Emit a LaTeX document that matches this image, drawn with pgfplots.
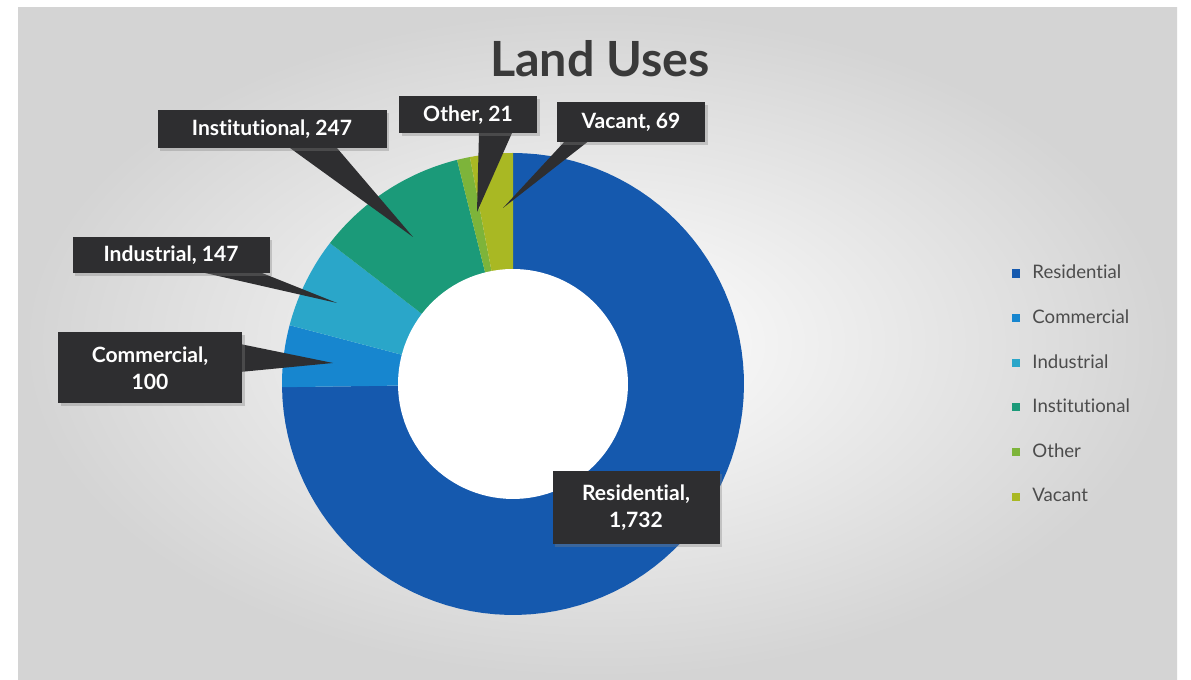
\documentclass[border=0pt]{standalone}
\usepackage{pgfplots}
\pgfplotsset{compat=1.18}
\usepackage{fontspec}
\setmainfont[Ligatures=NoCommon]{Lato}
\usetikzlibrary{shadows}

\definecolor{cRes}{HTML}{1559AE}
\definecolor{cCom}{HTML}{1786CF}
\definecolor{cInd}{HTML}{2AA6C9}
\definecolor{cIns}{HTML}{1B9A79}
\definecolor{cOth}{HTML}{7DB43A}
\definecolor{cVac}{HTML}{A9B823}
\definecolor{boxc}{HTML}{2E2E30}
\definecolor{titlec}{HTML}{3A3A3A}

% data values
\def\vRes{1732}
\def\vCom{100}
\def\vInd{147}
\def\vIns{247}
\def\vOth{21}
\def\vVac{69}
\pgfmathsetmacro\tot{\vRes+\vCom+\vInd+\vIns+\vOth+\vVac}
\pgfmathsetmacro\k{360/\tot}
\pgfmathsetmacro\aA{90}
\pgfmathsetmacro\aB{\aA-\k*\vRes}
\pgfmathsetmacro\aC{\aB-\k*\vCom}
\pgfmathsetmacro\aD{\aC-\k*\vInd}
\pgfmathsetmacro\aE{\aD-\k*\vIns}
\pgfmathsetmacro\aF{\aE-\k*\vOth}
\pgfmathsetmacro\aG{-270}

\def\cx{513}
\def\cy{296}
\def\R{231}
\def\r{115}

\begin{document}
\begin{tikzpicture}
\begin{axis}[
  scale only axis, width=11.91cm, height=6.8cm,
  xmin=0, xmax=1191, ymin=0, ymax=680,
  hide axis, clip=false,
  legend cell align=left,
  legend image code/.code={\fill[#1] (0pt,-1.15pt) rectangle (2.3pt,1.15pt);},
  legend style={at={(axis cs:1011,416)}, anchor=north west, draw=none, fill=none,
    inner sep=0pt, column sep=3.6pt, row sep=7.7pt,
    font=\fontsize{5.3pt}{6pt}\selectfont, text=black!70,
    nodes={inner sep=0pt, text height=4pt, text depth=1pt}},
]
% background
\fill[white] (0,0) rectangle (1191,680);
\shade[inner color=white, outer color=black!17] (18,0) rectangle (1177,672);

% slices
\addplot[fill=cRes, draw=none, domain=\aB:\aA, samples=90, variable=\t]
  ({\cx+\R*cos(\t)},{\cy+\R*sin(\t)}) -- (\cx,\cy) -- cycle;
\addlegendentry{Residential}
\addplot[fill=cCom, draw=none, domain=\aC:\aB, samples=20, variable=\t]
  ({\cx+\R*cos(\t)},{\cy+\R*sin(\t)}) -- (\cx,\cy) -- cycle;
\addlegendentry{Commercial}
\addplot[fill=cInd, draw=none, domain=\aD:\aC, samples=20, variable=\t]
  ({\cx+\R*cos(\t)},{\cy+\R*sin(\t)}) -- (\cx,\cy) -- cycle;
\addlegendentry{Industrial}
\addplot[fill=cIns, draw=none, domain=\aE:\aD, samples=30, variable=\t]
  ({\cx+\R*cos(\t)},{\cy+\R*sin(\t)}) -- (\cx,\cy) -- cycle;
\addlegendentry{Institutional}
\addplot[fill=cOth, draw=none, domain=\aF:\aE, samples=5, variable=\t]
  ({\cx+\R*cos(\t)},{\cy+\R*sin(\t)}) -- (\cx,\cy) -- cycle;
\addlegendentry{Other}
\addplot[fill=cVac, draw=none, domain=\aG:\aF, samples=10, variable=\t]
  ({\cx+\R*cos(\t)},{\cy+\R*sin(\t)}) -- (\cx,\cy) -- cycle;
\addlegendentry{Vacant}

% hole
\addplot[forget plot, fill=white, draw=none, domain=0:360, samples=120, variable=\t]
  ({\cx+\r*cos(\t)},{\cy+\r*sin(\t)}) -- cycle;

% callout pointers
\addplot[forget plot, fill=boxc, draw=none] coordinates {(290,532) (337,532) (413,443)};
\addplot[forget plot, fill=boxc, draw=none] coordinates {(479,547) (512,547) (477,468)};
\addplot[forget plot, fill=boxc, draw=none] coordinates {(566,540) (590,540) (503,472)};
\addplot[forget plot, fill=boxc, draw=none] coordinates {(205,407) (262,407) (337,377)};
\addplot[forget plot, fill=boxc, draw=none] coordinates {(240,336) (240,308) (333,317)};

% labels
\tikzset{lbl/.style={fill=boxc, text=white, inner sep=0pt, align=center,
  font=\fontsize{6pt}{7.6pt}\selectfont\bfseries,
  drop shadow={opacity=0.35, shadow xshift=0.8pt, shadow yshift=-0.8pt}}}
\node[lbl, minimum width=22.9mm, minimum height=3.8mm] at (272,551) {Institutional, 247};
\node[lbl, minimum width=13.8mm, minimum height=3.7mm] at (468,565) {Other, 21};
\node[lbl, minimum width=14.8mm, minimum height=4.0mm] at (631,558) {Vacant, 69};
\node[lbl, minimum width=19.7mm, minimum height=3.6mm] at (171,425) {Industrial, 147};
\node[lbl, minimum width=18.4mm, minimum height=7.1mm] at (150,312) {Commercial,\\100};
\node[lbl, minimum width=16.7mm, minimum height=7.3mm] at (636,172) {Residential,\\1,732};

% title
\node[font=\fontsize{13.8pt}{16pt}\selectfont\bfseries, text=titlec] at (600,621) {Land Uses};
\end{axis}
\end{tikzpicture}
\end{document}
